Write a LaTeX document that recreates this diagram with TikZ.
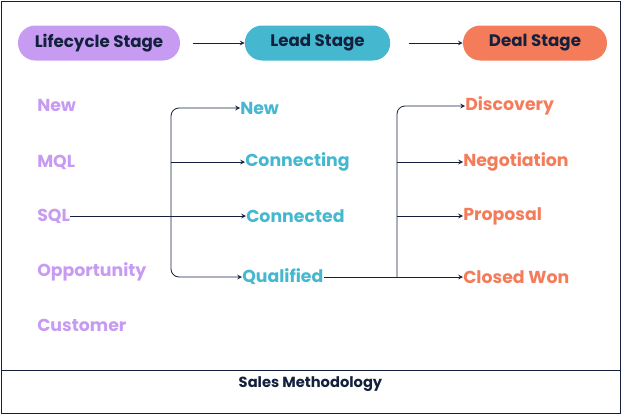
\documentclass[tikz,border=0pt]{standalone}
\usepackage{fontspec}
\setmainfont{Poppins}
\definecolor{life purple}{HTML}{C79BF2}
\definecolor{lead teal}{HTML}{45B8D0}
\definecolor{deal orange}{HTML}{F47C5A}
\definecolor{ink navy}{HTML}{14213D}
\tikzset{
  pill/.style={rounded corners=13pt, minimum height=26.25pt, text=ink navy, font=\bfseries\fontsize{12.5}{14}\selectfont},
  item/.style={anchor=west, inner sep=0pt, font=\bfseries\fontsize{13}{15}\selectfont},
  flow/.style={ink navy, semithick, -stealth, rounded corners=6}
}
\begin{document}
\begin{tikzpicture}[x=0.75pt,y=-0.75pt]
  \useasboundingbox (0,0) rectangle (621,414);
  % outline
  \draw[ink navy] (1,1) rectangle (620,413);
  \draw[ink navy] (1,370) -- (620,370);
  \node[font=\bfseries\fontsize{11}{13}\selectfont, text=ink navy] (title) at (310.5,384) {Sales Methodology};
  % stage pills
  \node[pill, fill=life purple, minimum width=121.5pt] (life) at (99,43) {Lifecycle Stage};
  \node[pill, fill=lead teal, minimum width=109pt] (lead) at (317.5,43) {Lead Stage};
  \node[pill, fill=deal orange, minimum width=108pt] (deal) at (535,43) {Deal Stage};
  \draw[flow] (life) ++(94,0) -- (lead.west);
  \draw[flow] (lead) ++(91,0) -- (deal.west);
  % lifecycle column
  \node[item, text=life purple] (new) at (37,105) {New};
  \node[item, text=life purple] (mql) at (37,162) {MQL};
  \node[item, text=life purple] (sql) at (37,216) {SQL};
  \node[item, text=life purple] (opp) at (37,272) {Opportunity};
  \node[item, text=life purple] (cust) at (37,325) {Customer};
  % lead column
  \node[item, text=lead teal] (lnew) at (240,108) {New};
  \node[item, text=lead teal] (lcon) at (245,162) {Connecting};
  \node[item, text=lead teal] (lcond) at (246,216) {Connected};
  \node[item, text=lead teal] (lqual) at (242,277) {Qualified};
  % deal column
  \node[item, text=deal orange] (disc) at (465,106) {Discovery};
  \node[item, text=deal orange] (nego) at (463,162) {Negotiation};
  \node[item, text=deal orange] (prop) at (463,216) {Proposal};
  \node[item, text=deal orange] (won) at (463,277) {Closed Won};
  % connectors
  \coordinate (lbar) at (171,216);
  \coordinate (rbar) at (397,277);
  \draw[flow] (sql.east) -- (lcond.west);
  \draw[flow] (lbar) |- (lnew.west);
  \draw[flow] (lbar) |- (lqual.west);
  \draw[flow] (lbar |- lcon) -- (lcon.west);
  \draw[flow] (lqual.east) -- (won.west);
  \draw[flow] (rbar) |- (disc.west);
  \draw[flow] (rbar |- nego) -- (nego.west);
  \draw[flow] (rbar |- prop) -- (prop.west);
\end{tikzpicture}
\end{document}
